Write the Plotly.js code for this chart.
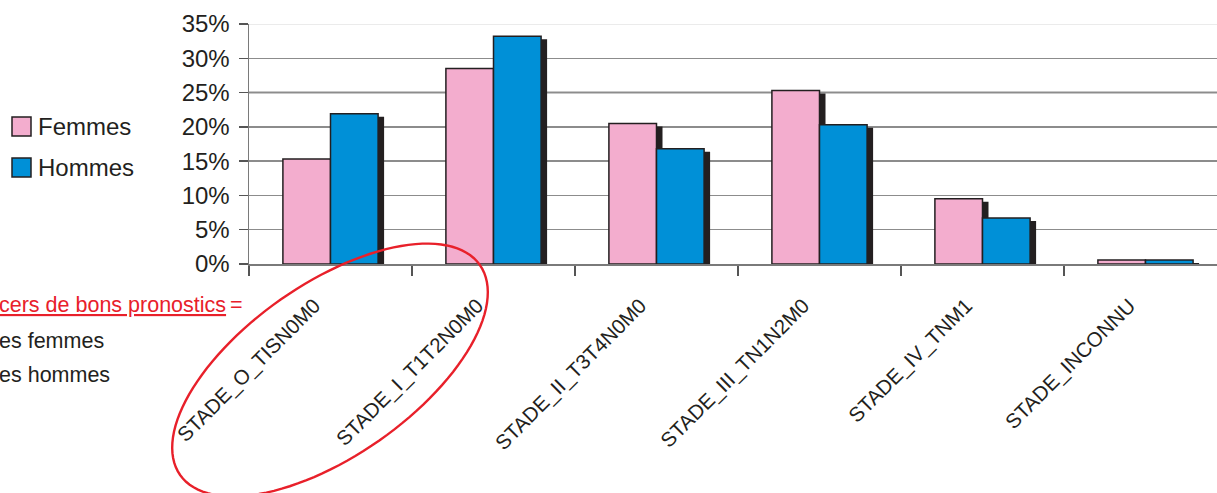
<!DOCTYPE html>
<html><head><meta charset="utf-8">
<script src="https://cdn.plot.ly/plotly-3.0.1.min.js"></script>
<style>html,body{margin:0;padding:0;background:#fff;overflow:hidden;} #chart{width:1217px;height:493px;}</style>
</head><body><div id="chart"></div>
<script>
// ---- data ----
const categories = ["STADE_O_TISN0M0", "STADE_I_T1T2N0M0", "STADE_II_T3T4N0M0", "STADE_III_TN1N2M0", "STADE_IV_TNM1", "STADE_INCONNU"];
const femmes = [15.3, 28.5, 20.5, 25.3, 9.5, 0.6];
const hommes = [21.9, 33.2, 16.8, 20.3, 6.7, 0.6];
const seriesNames = ["Femmes", "Hommes"];
const yTickVals = [0, 5, 10, 15, 20, 25, 30, 35];
const yTickText = ["0%", "5%", "10%", "15%", "20%", "25%", "30%", "35%"];
const noteTitle = "cers de bons pronostics";
const noteLines = ["es femmes", "es hommes"];

// ---- layout geometry (pixels) ----
const W = 1217, H = 493;
const L = 249, T = 24, B = 264, R = 1217;
const pw = R - L, ph = B - T;
const catPx = 163;
const px2x = p => (p - L) / pw;
const py2y = p => (B - p) / ph;

const FONT = '"Liberation Sans", Arial, sans-serif';
const TXT = '#231f20';
const RED = '#e8202a';
const PINK = '#f3adce', BLUE = '#0090d7', DARK = '#231f20';

const bw = 0.292;
const shX = 6 / catPx;            // shadow horizontal offset
const shY = 3 * 35 / ph;          // shadow vertical offset in data units

const traces = [
  {type: 'bar', x: categories, y: femmes.map(v => Math.max(v - shY, 0)), width: bw, offset: -bw + shX,
   marker: {color: DARK, line: {width: 0}}, hoverinfo: 'skip', showlegend: false},
  {type: 'bar', x: categories, y: hommes.map(v => Math.max(v - shY, 0)), width: bw, offset: shX,
   marker: {color: DARK, line: {width: 0}}, hoverinfo: 'skip', showlegend: false},
  {type: 'bar', name: seriesNames[0], x: categories, y: femmes, width: bw, offset: -bw,
   marker: {color: PINK, line: {color: DARK, width: 1.5}}, showlegend: false},
  {type: 'bar', name: seriesNames[1], x: categories, y: hommes, width: bw, offset: 0,
   marker: {color: BLUE, line: {color: DARK, width: 1.5}}, showlegend: false}
];

// ellipse path
const cx = 330, cy = 370, ea = 183, eb = 86, ang = -35 * Math.PI / 180;
const ux = Math.cos(ang), uy = Math.sin(ang), vx = -Math.sin(ang), vy = Math.cos(ang);
let path = '';
for (let i = 0; i <= 120; i++) {
  const t = i / 120 * 2 * Math.PI;
  const X = cx + ea * Math.cos(t) * ux + eb * Math.sin(t) * vx;
  const Y = cy + ea * Math.cos(t) * uy + eb * Math.sin(t) * vy;
  path += (i === 0 ? 'M' : 'L') + px2x(X).toFixed(5) + ',' + py2y(Y).toFixed(5);
}
path += 'Z';

const shapes = [
  {type: 'line', xref: 'paper', yref: 'y', x0: 0, x1: 1, y0: 25, y1: 25, line: {color: '#222', width: 1.5}, layer: 'below'},
  {type: 'line', xref: 'paper', yref: 'y', x0: 0, x1: 1, y0: 35, y1: 35, line: {color: '#e4e4e4', width: 1.5}, layer: 'below'},
  {type: 'rect', xref: 'paper', yref: 'paper', x0: px2x(12), x1: px2x(31), y0: py2y(117), y1: py2y(136),
   fillcolor: PINK, line: {color: DARK, width: 1.5}},
  {type: 'rect', xref: 'paper', yref: 'paper', x0: px2x(12), x1: px2x(31), y0: py2y(158), y1: py2y(177),
   fillcolor: BLUE, line: {color: DARK, width: 1.5}},
  {type: 'path', xref: 'paper', yref: 'paper', path: path, line: {color: RED, width: 2.4}, fillcolor: 'rgba(0,0,0,0)'}
];

const annotations = [
  {xref: 'paper', yref: 'paper', x: px2x(36), y: py2y(126.5), xanchor: 'left', yanchor: 'middle', showarrow: false,
   text: seriesNames[0], font: {family: FONT, size: 24, color: TXT}},
  {xref: 'paper', yref: 'paper', x: px2x(36), y: py2y(167.5), xanchor: 'left', yanchor: 'middle', showarrow: false,
   text: seriesNames[1], font: {family: FONT, size: 24, color: TXT}},
  {xref: 'paper', yref: 'paper', x: px2x(-3), y: py2y(305), xanchor: 'left', yanchor: 'middle', showarrow: false,
   text: noteTitle, font: {family: FONT, size: 21.5, color: RED, lineposition: 'under'}},
  {xref: 'paper', yref: 'paper', x: px2x(228), y: py2y(305), xanchor: 'left', yanchor: 'middle', showarrow: false,
   text: '=', font: {family: FONT, size: 21.5, color: RED}},
  {xref: 'paper', yref: 'paper', x: px2x(-3), y: py2y(341), xanchor: 'left', yanchor: 'middle', showarrow: false,
   text: noteLines[0], font: {family: FONT, size: 21.5, color: TXT}},
  {xref: 'paper', yref: 'paper', x: px2x(-3), y: py2y(375), xanchor: 'left', yanchor: 'middle', showarrow: false,
   text: noteLines[1], font: {family: FONT, size: 21.5, color: TXT}}
];

const layout = {
  width: W, height: H,
  margin: {l: L, r: W - R, t: T, b: H - B, pad: 0},
  paper_bgcolor: '#fff', plot_bgcolor: '#fff',
  barmode: 'overlay',
  showlegend: false,
  xaxis: {
    type: 'category', range: [-0.5, -0.5 + pw / catPx], fixedrange: true,
    tickvals: categories, ticktext: categories.map(c => c + '\u00a0\u00a0\u00a0\u00a0'),
    showgrid: false, zeroline: false,
    showline: true, linecolor: '#7a7a7a', linewidth: 1.5,
    ticks: 'outside', tickson: 'boundaries', ticklen: 10, tickcolor: '#555', tickwidth: 1.5,
    tickangle: -45, ticklabelstandoff: 4,
    tickfont: {family: FONT, size: 20.5, color: TXT}
  },
  yaxis: {
    range: [0, 35], fixedrange: true,
    tickvals: yTickVals, ticktext: yTickText,
    showgrid: true, gridcolor: '#8c8c8c', gridwidth: 1.5, zeroline: false,
    showline: true, linecolor: '#7a7a7a', linewidth: 1.5,
    ticks: 'outside', ticklen: 9, tickcolor: '#555', tickwidth: 1.5,
    ticklabelstandoff: 4,
    tickfont: {family: FONT, size: 24, color: TXT}
  },
  shapes: shapes,
  annotations: annotations
};

Plotly.newPlot('chart', traces, layout, {staticPlot: true, displayModeBar: false});
</script></body></html>
